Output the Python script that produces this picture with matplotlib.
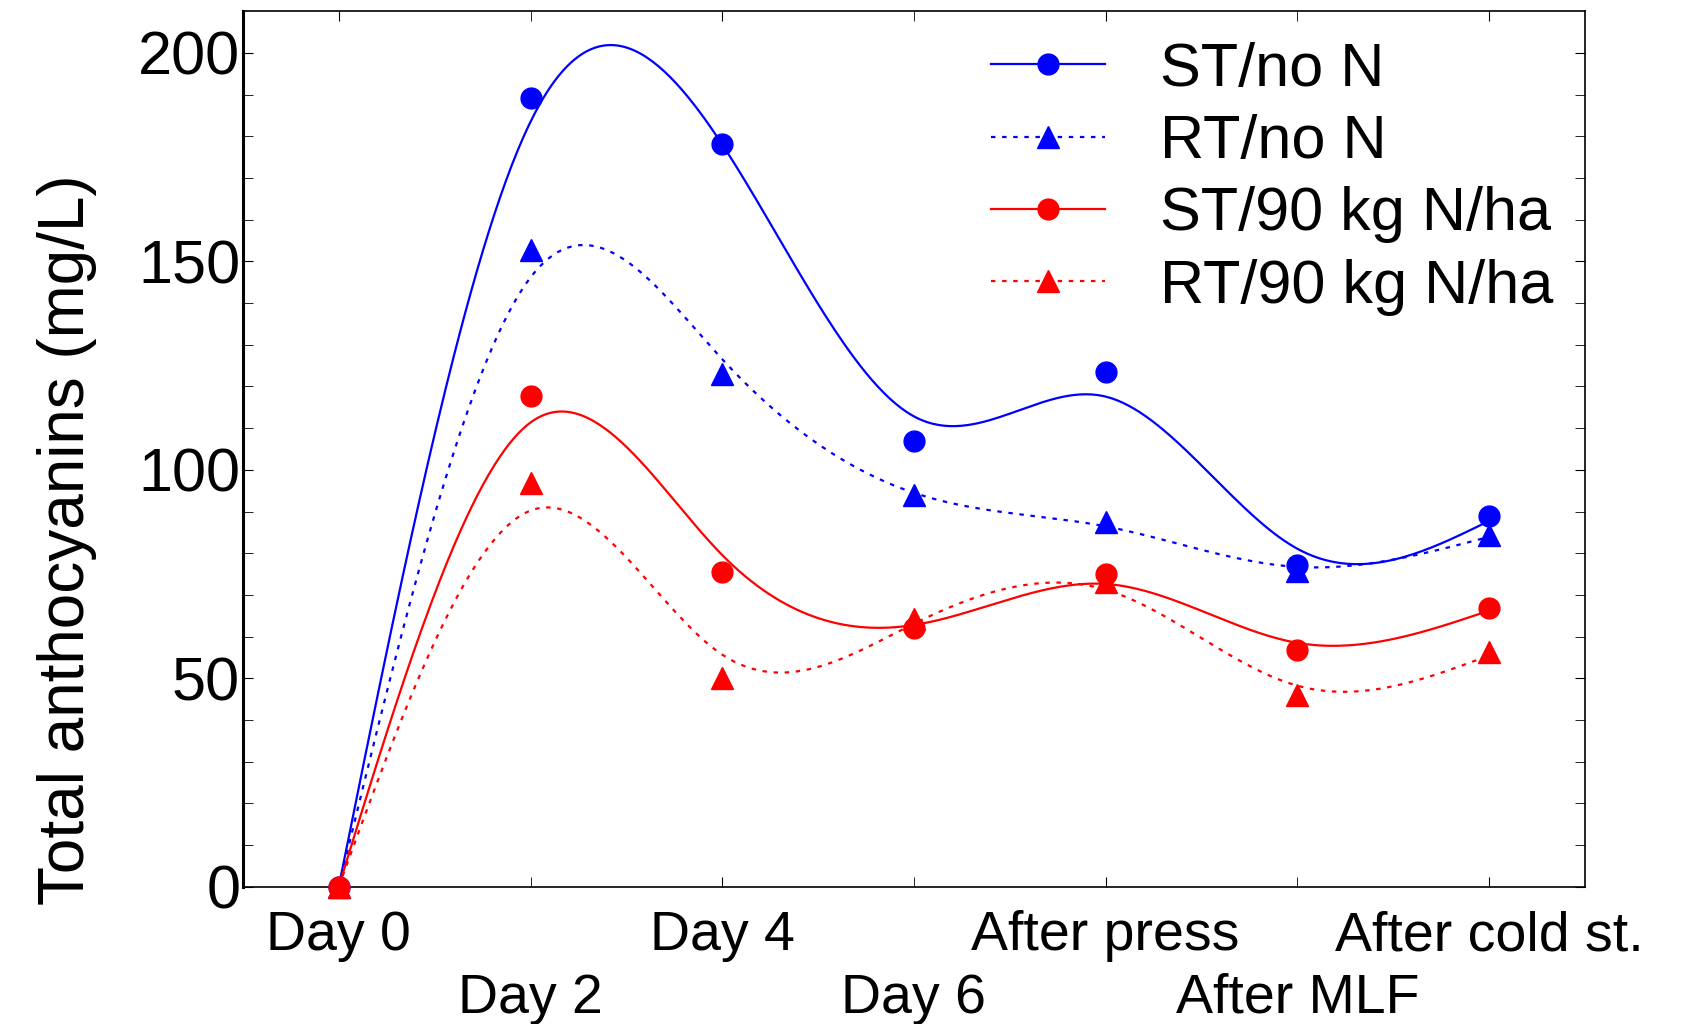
import numpy as np
import matplotlib
matplotlib.use("Agg")
import matplotlib.pyplot as plt
from matplotlib.ticker import FixedLocator, FixedFormatter

categories = ["Day 0", "Day 2", "Day 4", "Day 6", "After press", "After MLF", "After cold st."]
st_no_n = [0, 189.2, 178.1, 107.0, 123.5, 77.3, 88.9]
rt_no_n = [0, 152.8, 122.9, 94.0, 87.6, 75.8, 84.3]
st_90 = [0, 117.8, 75.5, 62.1, 75.0, 56.7, 66.8]
rt_90 = [0, 96.9, 50.0, 64.2, 73.2, 46.1, 56.2]
series_names = ["ST/no N", "RT/no N", "ST/90 kg N/ha", "RT/90 kg N/ha"]
y_label = "Total anthocyanins (mg/L)"
yticks = [0, 50, 100, 150, 200]

plt.rcParams["font.family"] = ["Liberation Sans", "DejaVu Sans"]


def smoothing_spline(x, y, xs, lam=0.01, w=None):
    """Reinsch smoothing cubic spline (natural), evaluated at xs."""
    x = np.asarray(x, float); y = np.asarray(y, float)
    n = len(x); h = np.diff(x)
    if w is None:
        w = np.ones(n)
    Q = np.zeros((n, n - 2)); R = np.zeros((n - 2, n - 2))
    for j in range(1, n - 1):
        Q[j - 1, j - 1] = 1 / h[j - 1]
        Q[j, j - 1] = -1 / h[j - 1] - 1 / h[j]
        Q[j + 1, j - 1] = 1 / h[j]
        R[j - 1, j - 1] = (h[j - 1] + h[j]) / 3
        if j < n - 2:
            R[j - 1, j] = R[j, j - 1] = h[j] / 6
    K = Q @ np.linalg.solve(R, Q.T)
    W = np.diag(w)
    g = np.linalg.solve(W + lam * K, W @ y)
    gam = np.linalg.solve(R, Q.T @ g)
    M = np.concatenate([[0], gam, [0]])
    idx = np.clip(np.searchsorted(x, xs) - 1, 0, n - 2)
    x0, x1 = x[idx], x[idx + 1]; hh = x1 - x0
    t0, t1 = x1 - xs, xs - x0
    return (M[idx] * t0**3 + M[idx + 1] * t1**3) / (6 * hh) \
        + (g[idx] / hh - M[idx] * hh / 6) * t0 + (g[idx + 1] / hh - M[idx + 1] * hh / 6) * t1


fig = plt.figure(figsize=(16.87, 10.24), dpi=100)
ax = fig.add_axes([0.144, 0.134, 0.7955, 0.855])
x = np.arange(1, len(categories) + 1)
xs = np.linspace(1, len(categories), 400)
weights = np.array([50, 1, 1, 1, 1, 1, 1], float)

styles = [
    (st_no_n, "blue", "-", "o"),
    (rt_no_n, "blue", (0, (2, 3)), "^"),
    (st_90, "red", "-", "o"),
    (rt_90, "red", (0, (2, 3)), "^"),
]
for (vals, c, ls, m), name in zip(styles, series_names):
    ax.plot(xs, smoothing_spline(x, vals, xs, lam=0.012, w=weights), color=c, ls=ls, lw=1.6)
    ms = 15 if m == "o" else 16
    ax.plot(x, vals, ls="none", marker=m, color=c, ms=ms, clip_on=False, zorder=3)
    ax.plot([], [], color=c, ls=ls, lw=1.6, marker=m, ms=ms, label=name)

ax.set_xlim(0.5, 7.5)
ax.set_ylim(0, 210)
ax.set_yticks(yticks)
ax.set_yticks(np.arange(10, 210, 10), minor=True)
# staggered category labels: first row on major ticks, second row on minor ticks
ax.xaxis.set_major_locator(FixedLocator(x[0::2]))
ax.xaxis.set_major_formatter(FixedFormatter(categories[0::2]))
ax.xaxis.set_minor_locator(FixedLocator(x[1::2]))
ax.xaxis.set_minor_formatter(FixedFormatter(categories[1::2]))
ax.tick_params(axis="x", which="both", direction="in", top=True, length=7, labelsize=40)
ax.tick_params(axis="x", which="major", pad=17)
ax.tick_params(axis="x", which="minor", pad=62)
ax.tick_params(axis="y", which="both", direction="in", right=True, length=7, labelsize=44, pad=2)
for s in ax.spines.values():
    s.set_linewidth(1.2)
ax.spines["left"].set_linewidth(2.2)

ax.legend(loc="upper left", bbox_to_anchor=(0.535, 1.0), frameon=False, fontsize=44,
          handlelength=1.85, handletextpad=0.9, labelspacing=0.25, borderaxespad=0.1)

fig.text(67 / 1687, 1 - 540 / 1024, y_label, rotation=90, ha="center", va="center", fontsize=46)

fig.savefig("out.png", dpi=100)
